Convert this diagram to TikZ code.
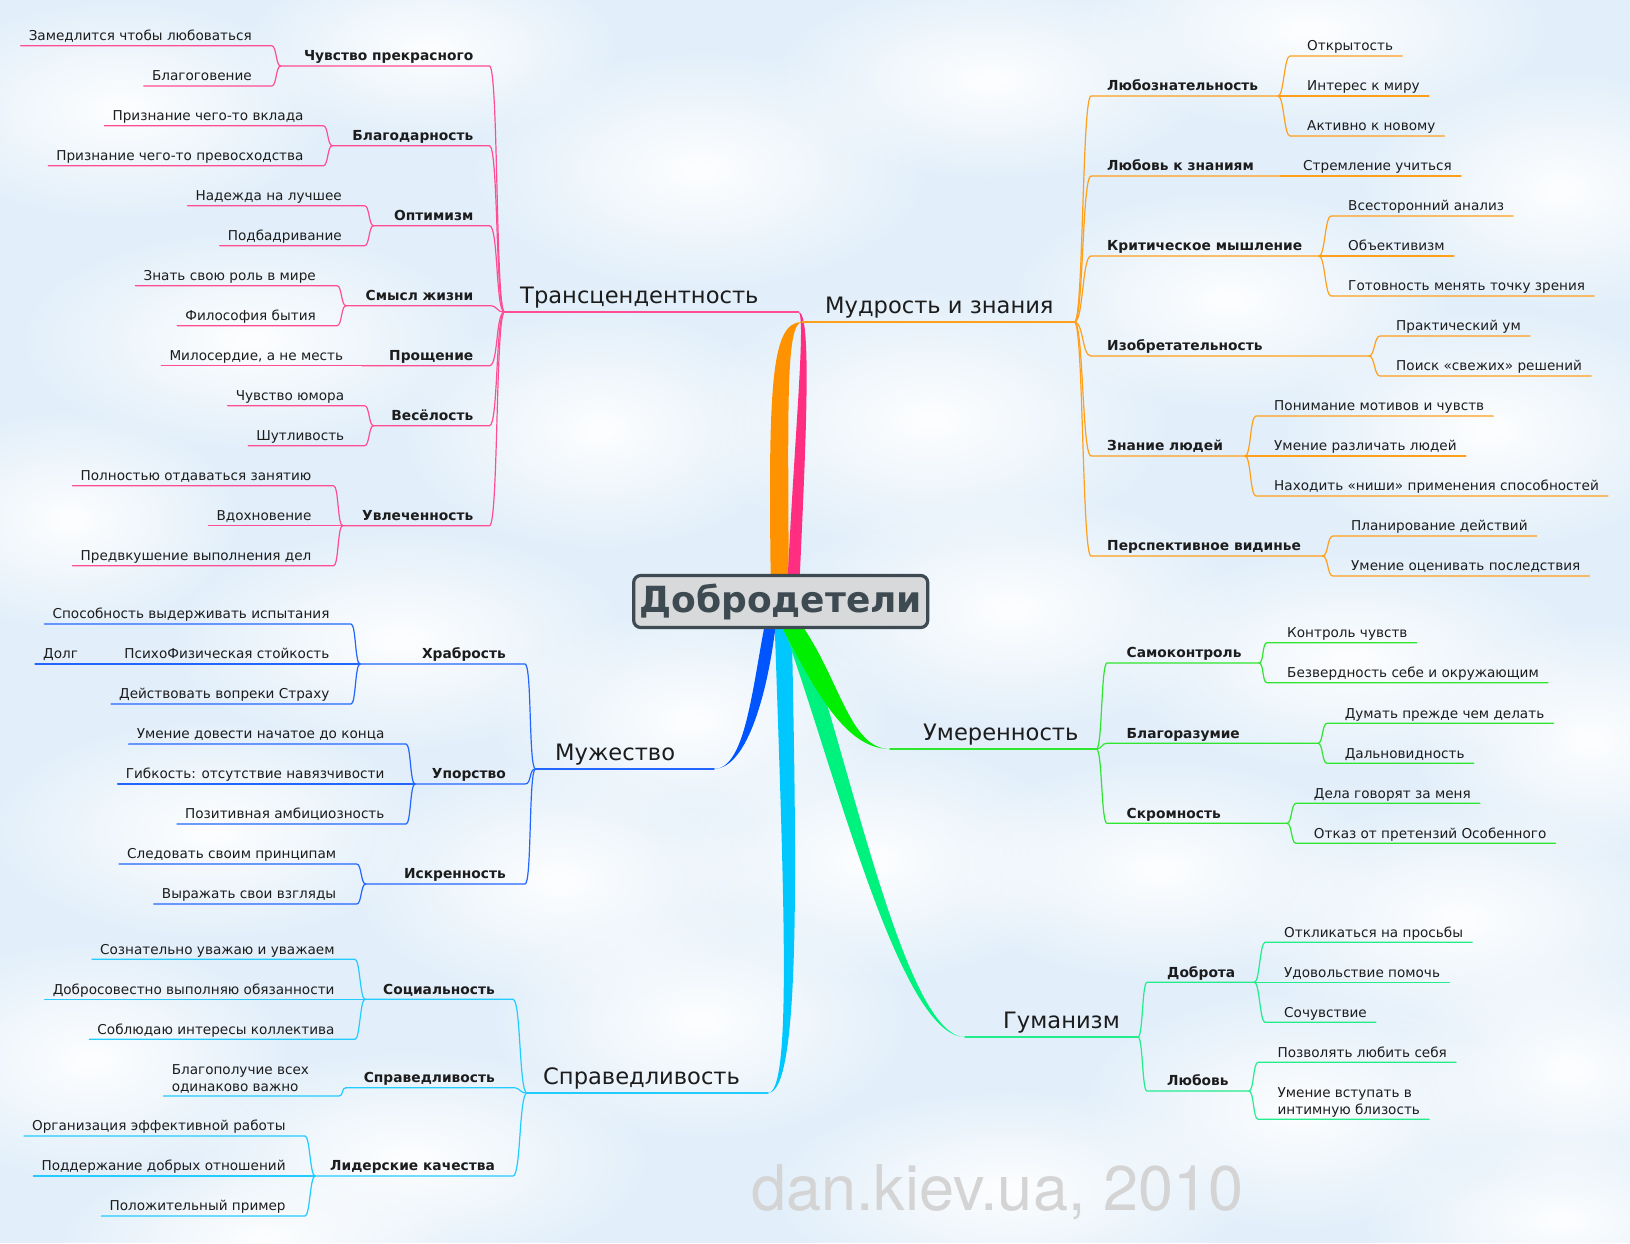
\documentclass[tikz,border=0pt]{standalone}
\usepackage{fontspec}
\setmainfont{DejaVu Sans}
\newfontfamily\markfont{TeX Gyre Heros}
\usetikzlibrary{backgrounds,fadings}
\definecolor{bgc}{HTML}{E2EFFA}
\definecolor{ink}{HTML}{1C1C1C}
\definecolor{rootbd}{HTML}{3E4A52}
\definecolor{rootbg}{HTML}{D8D9DA}
\definecolor{pkband}{HTML}{FF2E80}
\definecolor{pkline}{HTML}{FF4D94}
\definecolor{orband}{HTML}{FF9200}
\definecolor{orline}{HTML}{FF9F1A}
\definecolor{blband}{HTML}{0055FF}
\definecolor{blline}{HTML}{2266FF}
\definecolor{cyband}{HTML}{00C8FF}
\definecolor{cyline}{HTML}{22CCFF}
\definecolor{grband}{HTML}{00EE00}
\definecolor{grline}{HTML}{2EE62E}
\definecolor{spband}{HTML}{00F27E}
\definecolor{spline}{HTML}{22EC8C}
\definecolor{markc}{HTML}{D4D4D4}
\tikzfading[name=cloudfade,inner color=transparent!0,outer color=transparent!100]
\tikzset{
  leafbase/.style={font=\fontsize{13.6}{17}\selectfont,text=ink,inner xsep=0pt,inner ysep=2pt},
  leafnode/.style={leafbase,text height=9.5pt,text depth=3pt},
  subnode/.style={leafnode,font=\fontsize{13.8}{17}\selectfont\bfseries},
  topicnode/.style={font=\fontsize{22.6}{26}\selectfont,text=ink,inner xsep=0pt,
                    inner ysep=3pt,text height=16pt,text depth=5.5pt},
  rootbox/.style={draw=rootbd,fill=rootbg,line width=3.2pt,rounded corners=7pt,
                  text=rootbd,font=\fontsize{36}{40}\selectfont\bfseries,
                  minimum width=294pt,minimum height=52pt,inner sep=0pt},
  twig/.style={line width=1.2pt,line cap=round},
  topicln/.style={line width=1.5pt,line cap=round},
  cloud/.style={white,path fading=cloudfade,fill opacity=0.95},
}
\begin{document}
\begin{tikzpicture}[x=1pt,y=-1pt]
  \useasboundingbox (0,0) rectangle (1630,1243);
  % Centre
  \node[rootbox](root)at(780.7,601.5){Добродетели};
  % Transcendence
  \node[topicnode,anchor=south west](tr)at(520,312){Трансцендентность};
  \foreach \n/\y/\txt in {cp/66/Чувство прекрасного,bl/145.7/Благодарность,
      op/225.7/Оптимизм,sm/305.7/Смысл жизни,pr/365.7/Прощение,
      ve/425.7/Весёлость,uv/525.7/Увлеченность}
    \node[subnode,anchor=south east](\n)at(473.5,\y){\txt};
  \foreach \n/\x/\y/\txt in {cp1/252/45.7/Замедлится чтобы любоваться,
      cp2/252/86/Благоговение,bl1/303.7/125.7/Признание чего-то вклада,
      bl2/303.7/165.7/Признание чего-то превосходства,op1/342/205.7/Надежда на лучшее,
      op2/342/245.7/Подбадривание,sm1/316/285.7/Знать свою роль в мире,
      sm2/316/325.7/Философия бытия,pr1/343.3/365.7/{Милосердие, а не месть},
      ve1/344.4/405.7/Чувство юмора,ve2/344.4/445.7/Шутливость,
      uv1/311.6/485.7/Полностью отдаваться занятию,uv2/311.6/525.7/Вдохновение,
      uv3/311.6/565.7/Предвкушение выполнения дел}
    \node[leafnode,anchor=south east](\n)at(\x,\y){\txt};
  % Courage
  \node[topicnode,anchor=south west](mu)at(555,769){Мужество};
  \foreach \n/\y/\txt in {hr/664/Храбрость,up/784/Упорство,is/884/Искренность}
    \node[subnode,anchor=south east](\n)at(506,\y){\txt};
  \foreach \n/\x/\y/\txt in {hr1/329.6/624/Способность выдерживать испытания,
      hr2/329.6/664/ПсихоФизическая стойкость,hr3/329.6/704/Действовать вопреки Страху,
      up1/384.6/744/Умение довести начатое до конца,
      up2/384.6/784/{Гибкость: отсутствие навязчивости},
      up3/384.6/824/Позитивная амбициозность,is1/336.4/864/Следовать своим принципам,
      is2/336.4/904/Выражать свои взгляды}
    \node[leafnode,anchor=south east](\n)at(\x,\y){\txt};
  \node[leafnode,anchor=south west](dolg)at(43,664){Долг};
  % Justice
  \node[topicnode,anchor=south west](ju)at(543,1093){Справедливость};
  \foreach \n/\y/\txt in {so/999.3/Социальность,sp/1087.7/Справедливость,
      le/1176/Лидерские качества}
    \node[subnode,anchor=south east](\n)at(495,\y){\txt};
  \foreach \n/\x/\y/\txt in {so1/334.7/959.3/Сознательно уважаю и уважаем,
      so2/334.7/999.3/Добросовестно выполняю обязанности,
      so3/334.7/1039.3/Соблюдаю интересы коллектива,
      le1/285.8/1136/Организация эффективной работы,
      le2/285.8/1176/Поддержание добрых отношений,le3/285.8/1216/Положительный пример}
    \node[leafnode,anchor=south east](\n)at(\x,\y){\txt};
  \node[leafbase,anchor=south east,align=left](sp1)at(309.2,1096)
    {Благополучие всех\\одинаково важно};
  % Wisdom
  \node[topicnode,anchor=south west](mw)at(825,322){Мудрость и знания};
  \foreach \n/\y/\txt in {lz/96/Любознательность,lk/176/Любовь к знаниям,
      km/256/Критическое мышление,iz/356/Изобретательность,zl/456/Знание людей,
      pv/556/Перспективное видинье}
    \node[subnode,anchor=south west](\n)at(1107,\y){\txt};
  \foreach \n/\x/\y/\txt in {lz1/1307/56/Открытость,lz2/1307/96/Интерес к миру,
      lz3/1307/136/Активно к новому,lk1/1303/176/Стремление учиться,
      km1/1348/216/Всесторонний анализ,km2/1348/256/Объективизм,
      km3/1348/296/Готовность менять точку зрения,iz1/1396/336/Практический ум,
      iz2/1396/376/Поиск «свежих» решений,zl1/1274/416/Понимание мотивов и чувств,
      zl2/1274/456/Умение различать людей,
      zl3/1274/496/Находить «ниши» применения способностей,
      pv1/1351/536/Планирование действий,pv2/1351/576/Умение оценивать последствия}
    \node[leafnode,anchor=south west](\n)at(\x,\y){\txt};
  % Temperance
  \node[topicnode,anchor=south west](um)at(923,749){Умеренность};
  \foreach \n/\y/\txt in {sk/663/Самоконтроль,br/743.3/Благоразумие,sr/823.3/Скромность}
    \node[subnode,anchor=south west](\n)at(1126.5,\y){\txt};
  \foreach \n/\x/\y/\txt in {sk1/1287/642.7/Контроль чувств,
      sk2/1287/682.7/Безвердность себе и окружающим,
      br1/1344.6/723.3/Думать прежде чем делать,br2/1344.6/763.3/Дальновидность,
      sr1/1313.7/803.3/Дела говорят за меня,sr2/1313.7/843.3/Отказ от претензий Особенного}
    \node[leafnode,anchor=south west](\n)at(\x,\y){\txt};
  % Humanity
  \node[topicnode,anchor=south west](gu)at(1003,1037){Гуманизм};
  \node[subnode,anchor=south west](db)at(1167,982.3){Доброта};
  \node[subnode,anchor=south west](lb)at(1167,1091){Любовь};
  \foreach \n/\x/\y/\txt in {db1/1284/942.3/Откликаться на просьбы,
      db2/1284/982.3/Удовольствие помочь,db3/1284/1022.3/Сочувствие,
      lb1/1277.4/1062.3/Позволять любить себя}
    \node[leafnode,anchor=south west](\n)at(\x,\y){\txt};
  \node[leafbase,anchor=south west,align=left](lb2)at(1277.4,1119.3)
    {Умение вступать в\\интимную близость};
  % Junctions
  \foreach \n/\jx/\kx/\y in {tr/504.5/489.5/312,cp/280.7/271.7/66,bl/332.3/323.3/145.7,
      op/373.6/364.6/225.7,sm/346/337/305.7,pr/362/353/365.7,ve/373.6/364.6/425.7,
      uv/342.6/333.6/525.7,mu/535.5/525/769,hr/360/351/664,up/415/406/784,
      is/365.7/356.7/884,ju/527/513/1093,so/365/355/999.3,sp/346/339/1087.7,
      le/315/305/1176,mw/1074.5/1091/322,lz/1278/1290/96,lk/1280/1290/176,
      km/1319/1331/256,iz/1369/1380/356,zl/1245/1256/456,pv/1322.5/1333/556,
      um/1096.4/1107/749,sk/1259/1267/663,br/1318/1327/743.3,sr/1287/1296/823.3,
      gu/1138/1147/1037,db/1254.5/1265/982.3,lb/1249/1258/1091}
    {\coordinate(\n-j)at(\jx,\y); \coordinate(\n-k)at(\kx,\y);}
  \coordinate(tr-e)at(798.5,312);
  \coordinate(mw-e)at(802,322);
  \coordinate(mu-e)at(714,769);
  \coordinate(ju-e)at(768,1093);
  \coordinate(um-e)at(890,749);
  \coordinate(gu-e)at(965,1037);
  % Left twigs
  \foreach \c/\p in {cp1/cp,cp2/cp,bl1/bl,bl2/bl,op1/op,op2/op,sm1/sm,sm2/sm,pr1/pr,
      ve1/ve,ve2/ve,uv1/uv,uv2/uv,uv3/uv}
    \draw[twig,pkline]([xshift=-8pt]\c.south west)--(\c.south -| \p-k)
      .. controls +(5,0) and +(-5,0) .. (\p-j);
  \foreach \c in {cp,bl,op,sm,pr,ve,uv}
    \draw[twig,pkline](\c-j)--(\c.south -| tr-k) .. controls +(9,0) and +(-9,0) .. (tr-j);
  \draw[topicln,pkline](tr-j)--(tr-e);
  \foreach \c/\p in {hr1/hr,hr2/hr,hr3/hr,up1/up,up2/up,up3/up,is1/is,is2/is}
    \draw[twig,blline]([xshift=-8pt]\c.south west)--(\c.south -| \p-k)
      .. controls +(5,0) and +(-5,0) .. (\p-j);
  \draw[twig,blline]([xshift=-8pt]dolg.south west)--([xshift=-8pt]hr2.south west);
  \foreach \c in {hr,up,is}
    \draw[twig,blline](\c-j)--(\c.south -| mu-k) .. controls +(7,0) and +(-7,0) .. (mu-j);
  \draw[topicln,blline](mu-j)--(mu-e);
  \foreach \c/\p in {so1/so,so2/so,so3/so,sp1/sp,le1/le,le2/le,le3/le}
    \draw[twig,cyline]([xshift=-8pt]\c.south west)--(\c.south -| \p-k)
      .. controls +(5,0) and +(-5,0) .. (\p-j);
  \foreach \c in {so,sp,le}
    \draw[twig,cyline](\c-j)--(\c.south -| ju-k) .. controls +(8,0) and +(-8,0) .. (ju-j);
  \draw[topicln,cyline](ju-j)--(ju-e);
  % Right twigs
  \foreach \c/\p in {lz1/lz,lz2/lz,lz3/lz,lk1/lk,km1/km,km2/km,km3/km,iz1/iz,iz2/iz,
      zl1/zl,zl2/zl,zl3/zl,pv1/pv,pv2/pv}
    \draw[twig,orline](\p-j) .. controls +(6,0) and +(-6,0) .. (\c.south -| \p-k)
      --([xshift=9pt]\c.south east);
  \foreach \c in {lz,lk,km,iz,zl,pv}
    \draw[twig,orline](mw-j) .. controls +(9,0) and +(-9,0) .. (\c.south -| mw-k)--(\c-j);
  \draw[topicln,orline](mw-e)--(mw-j);
  \foreach \c/\p in {sk1/sk,sk2/sk,br1/br,br2/br,sr1/sr,sr2/sr}
    \draw[twig,grline](\p-j) .. controls +(5,0) and +(-5,0) .. (\c.south -| \p-k)
      --([xshift=9pt]\c.south east);
  \foreach \c in {sk,br,sr}
    \draw[twig,grline](um-j) .. controls +(6,0) and +(-6,0) .. (\c.south -| um-k)--(\c-j);
  \draw[topicln,grline](um-e)--(um-j);
  \foreach \c/\p in {db1/db,db2/db,db3/db,lb1/lb,lb2/lb}
    \draw[twig,spline](\p-j) .. controls +(5,0) and +(-5,0) .. (\c.south -| \p-k)
      --([xshift=9pt]\c.south east);
  \foreach \c in {db,lb}
    \draw[twig,spline](gu-j) .. controls +(5,0) and +(-5,0) .. (\c.south -| gu-k)--(\c-j);
  \draw[topicln,spline](gu-e)--(gu-j);
  % Watermark
  \node[font=\markfont\fontsize{63}{70}\selectfont,text=markc,anchor=base west,
        inner sep=0pt](mark)at(751,1210){dan.kiev.ua, 2010};
  % Background and bands
  \begin{scope}[on background layer]
    \fill[bgc](0,0)rectangle(1630,1243);
    \foreach \x/\y/\rx/\ry in {120/110/210/110,430/50/190/90,700/170/230/120,
        990/80/220/100,1310/30/240/100,1560/190/200/120,250/340/230/110,
        600/430/200/120,930/420/240/130,1230/300/220/110,1490/430/210/120,
        70/520/170/110,400/640/230/110,690/720/200/110,1010/610/230/120,
        1350/660/240/110,1590/740/180/120,210/830/220/110,560/880/210/120,
        870/860/220/120,1160/870/220/110,1460/920/230/120,90/1060/200/120,
        410/1160/240/110,700/1020/210/120,1010/1190/240/100,1300/1110/220/120,
        1570/1070/180/120,1560/1220/200/90,260/1240/200/80}
      \fill[cloud](\x,\y)ellipse({\rx} and {\ry});
    \fill[orband]([xshift=-10pt,yshift=-4pt]root.north)
      .. controls (768,380) and (772,322) .. (mw-e)
      .. controls (786,324) and (788,400) .. ([xshift=8pt,yshift=-4pt]root.north)--cycle;
    \fill[pkband]([xshift=7pt,yshift=-4pt]root.north)
      .. controls (795,430) and (806,316) .. (tr-e)
      .. controls (812,312) and (806,440) .. ([xshift=19pt,yshift=-4pt]root.north)--cycle;
    \fill[cyband]([xshift=-6pt,yshift=4pt]root.south)
      .. controls (784,900) and (792,1093) .. (ju-e)
      .. controls (800,1093) and (797,880) .. ([xshift=11pt,yshift=4pt]root.south)--cycle;
    \fill[blband]([xshift=-16pt,yshift=4pt]root.south)
      .. controls (752,690) and (745,769) .. (mu-e)
      .. controls (748,768) and (768,690) .. ([xshift=-5pt,yshift=4pt]root.south)--cycle;
    \fill[spband]([xshift=2pt,yshift=4pt]root.south)
      .. controls (835,770) and (900,1037) .. (gu-e)
      .. controls (905,1037) and (850,760) .. ([xshift=21pt,yshift=4pt]root.south)--cycle;
    \fill[grband]([xshift=0pt,yshift=4pt]root.south)
      .. controls (815,690) and (845,749) .. (um-e)
      .. controls (850,749) and (840,680) .. ([xshift=21pt,yshift=4pt]root.south)--cycle;
  \end{scope}
\end{tikzpicture}
\end{document}
